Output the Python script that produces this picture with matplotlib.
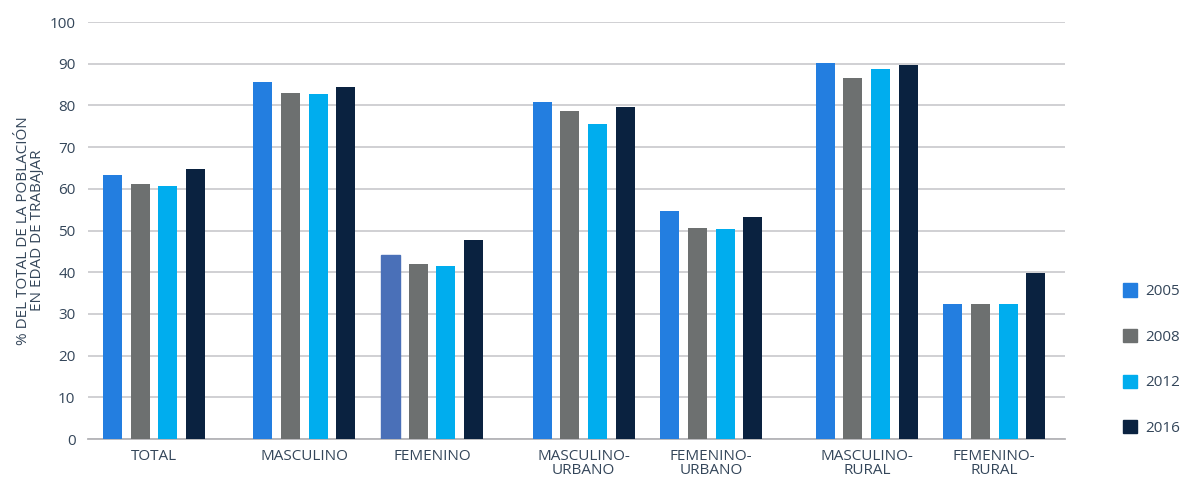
import matplotlib.pyplot as plt
from matplotlib.patches import Patch

plt.rcParams['font.family'] = ['Open Sans', 'DejaVu Sans']

categorias = ["TOTAL", "MASCULINO", "FEMENINO", "MASCULINO-\nURBANO",
              "FEMENINO-\nURBANO", "MASCULINO-\nRURAL", "FEMENINO-\nRURAL"]
anios = ["2005", "2008", "2012", "2016"]

v2005 = [63.3, 85.6, 44.1, 80.8, 54.7, 90.2, 32.4]
v2008 = [61.2, 83.0, 42.0, 78.7, 50.6, 86.6, 32.4]
v2012 = [60.7, 82.7, 41.5, 75.5, 50.4, 88.7, 32.4]
v2016 = [64.7, 84.4, 47.7, 79.6, 53.2, 89.7, 39.8]

series = [v2005, v2008, v2012, v2016]
colores = ["#237ee0", "#6d7070", "#00adee", "#0a2240"]
texto = "#34465a"
fs = 11

# groups come in a single + pairs layout on the axis
pos = [0, 1.18, 2.18, 3.37, 4.37, 5.59, 6.59]
paso = 0.217
ancho = 0.149

fig = plt.figure(figsize=(11.86, 4.79), dpi=100)
ax = fig.add_axes([0.0742, 0.0835, 0.8238, 0.8705])

for i, vals in enumerate(series):
    xs = [p + (i - 1.5) * paso for p in pos]
    bars = ax.bar(xs, vals, width=ancho, color=colores[i], zorder=3)
    if i == 0:
        # FEMENINO 2005 is drawn in a muted blue
        bars[2].set_color("#4a70b8")

ax.set_ylim(0, 100)
ax.set_xlim(-0.518, 7.145)
ax.set_yticks(range(0, 101, 10))
ax.yaxis.grid(True, color="#c4c4c8", linewidth=1.1, zorder=0)
for s in ["top", "right", "left"]:
    ax.spines[s].set_visible(False)
ax.spines["bottom"].set_color("#b4b4b8")
ax.spines["bottom"].set_linewidth(1.3)

ax.set_xticks(pos)
ax.set_xticklabels(categorias, fontsize=fs, color=texto, linespacing=0.95)
ax.tick_params(axis="both", length=0, labelsize=fs, colors=texto)
ax.tick_params(axis="x", pad=7)
ax.tick_params(axis="y", pad=9)

ax.set_ylabel("% DEL TOTAL DE LA POBLACIÓN\nEN EDAD DE TRABAJAR", fontsize=11,
              color=texto, linespacing=0.95)
ax.yaxis.set_label_coords(-0.044, 0.5)

handles = [Patch(color=c) for c in colores]
fig.legend(handles, anios, loc="center left", bbox_to_anchor=(0.9465, 0.249),
           frameon=False, fontsize=fs, labelcolor=texto,
           handlelength=0.95, handleheight=0.95, handletextpad=0.55,
           labelspacing=1.95, borderaxespad=0, borderpad=0)

fig.savefig("out.png", dpi=100)
